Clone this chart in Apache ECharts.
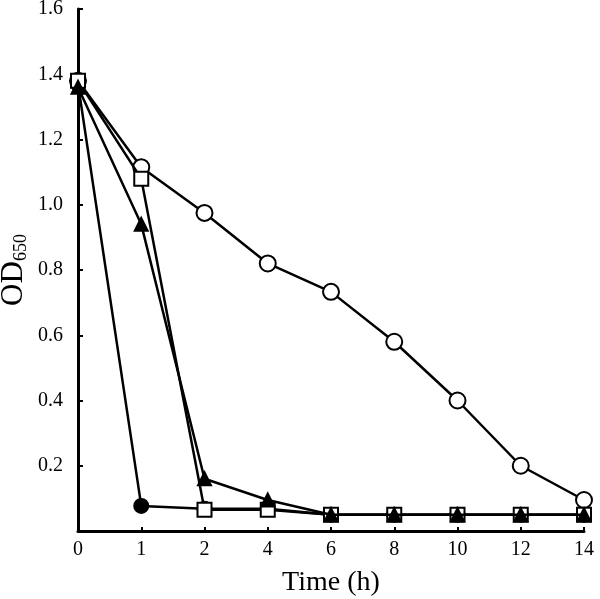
<!DOCTYPE html>
<html><head><meta charset="utf-8">
<script src="https://cdn.jsdelivr.net/npm/echarts@6/dist/echarts.min.js"></script>
<style>html,body{margin:0;padding:0;background:#fff}#c{width:600px;height:599px}</style>
</head><body><div id="c"></div>
<script>
const categories = ['0','1','2','4','6','8','10','12','14'];
const openCircle = [1.38, 1.115, 0.975, 0.82, 0.733, 0.58, 0.40, 0.20, 0.095];
const filledCircle = [1.37, 0.077, 0.068, 0.068, 0.05, 0.05, 0.05, 0.05, 0.05];
const openSquare = [1.38, 1.08, 0.065, 0.065, 0.05, 0.05, 0.05, 0.05, 0.05];
const filledTriangle = [1.36, 0.94, 0.16, 0.095, 0.05, 0.05, 0.05, 0.05, 0.05];
const yTicks = {min: 0, max: 1.6, interval: 0.2};

const font = 'Liberation Serif';
function s(data, symbol, size, fill, z) {
  return {type: 'line', data, symbol, symbolSize: size, showAllSymbol: true, z,
    lineStyle: {color: '#000', width: 2.5},
    itemStyle: {color: fill, borderColor: '#000', borderWidth: 2},
    emphasis: {disabled: true}, animation: false};
}
const chart = echarts.init(document.getElementById('c'));
chart.setOption({
  animation: false,
  grid: {left: 78, right: 16, top: 9, bottom: 68, containLabel: false, outerBoundsMode: 'none'},
  xAxis: {type: 'category', data: categories, boundaryGap: false,
    name: 'Time (h)', nameLocation: 'middle', nameGap: 38,
    nameTextStyle: {fontFamily: font, fontSize: 28, color: '#000'},
    axisLine: {lineStyle: {color: '#000', width: 3}},
    axisTick: {inside: true, length: 4, lineStyle: {color: '#000', width: 2}, alignWithLabel: true},
    axisLabel: {fontFamily: font, fontSize: 20, color: '#000', margin: 9},
    splitLine: {show: false}},
  yAxis: {type: 'value', min: yTicks.min, max: yTicks.max, interval: yTicks.interval,
    name: '{a|OD}{b|650}', nameLocation: 'middle', nameGap: 48, nameMoveOverlap: false,
    nameTextStyle: {verticalAlign: 'bottom',
      rich: {a: {fontFamily: font, fontSize: 31, color: '#000'},
             b: {fontFamily: font, fontSize: 18, color: '#000', verticalAlign: 'bottom', padding: [14, 0, 0, 0]}}},
    axisLine: {show: true, lineStyle: {color: '#000', width: 3}},
    axisTick: {show: true, inside: true, length: 5, lineStyle: {color: '#000', width: 2}},
    axisLabel: {fontFamily: font, fontSize: 20, color: '#000', margin: 15,
      formatter: v => v === 0 ? '' : v.toFixed(1)},
    splitLine: {show: false}},
  series: [
    s(filledCircle, 'circle', 14, '#000', 2),
    s(openCircle, 'circle', 16, '#fff', 3),
    s(openSquare, 'rect', 14, '#fff', 4),
    s(filledTriangle, 'triangle', 13, '#000', 5)
  ]
});
</script></body></html>
